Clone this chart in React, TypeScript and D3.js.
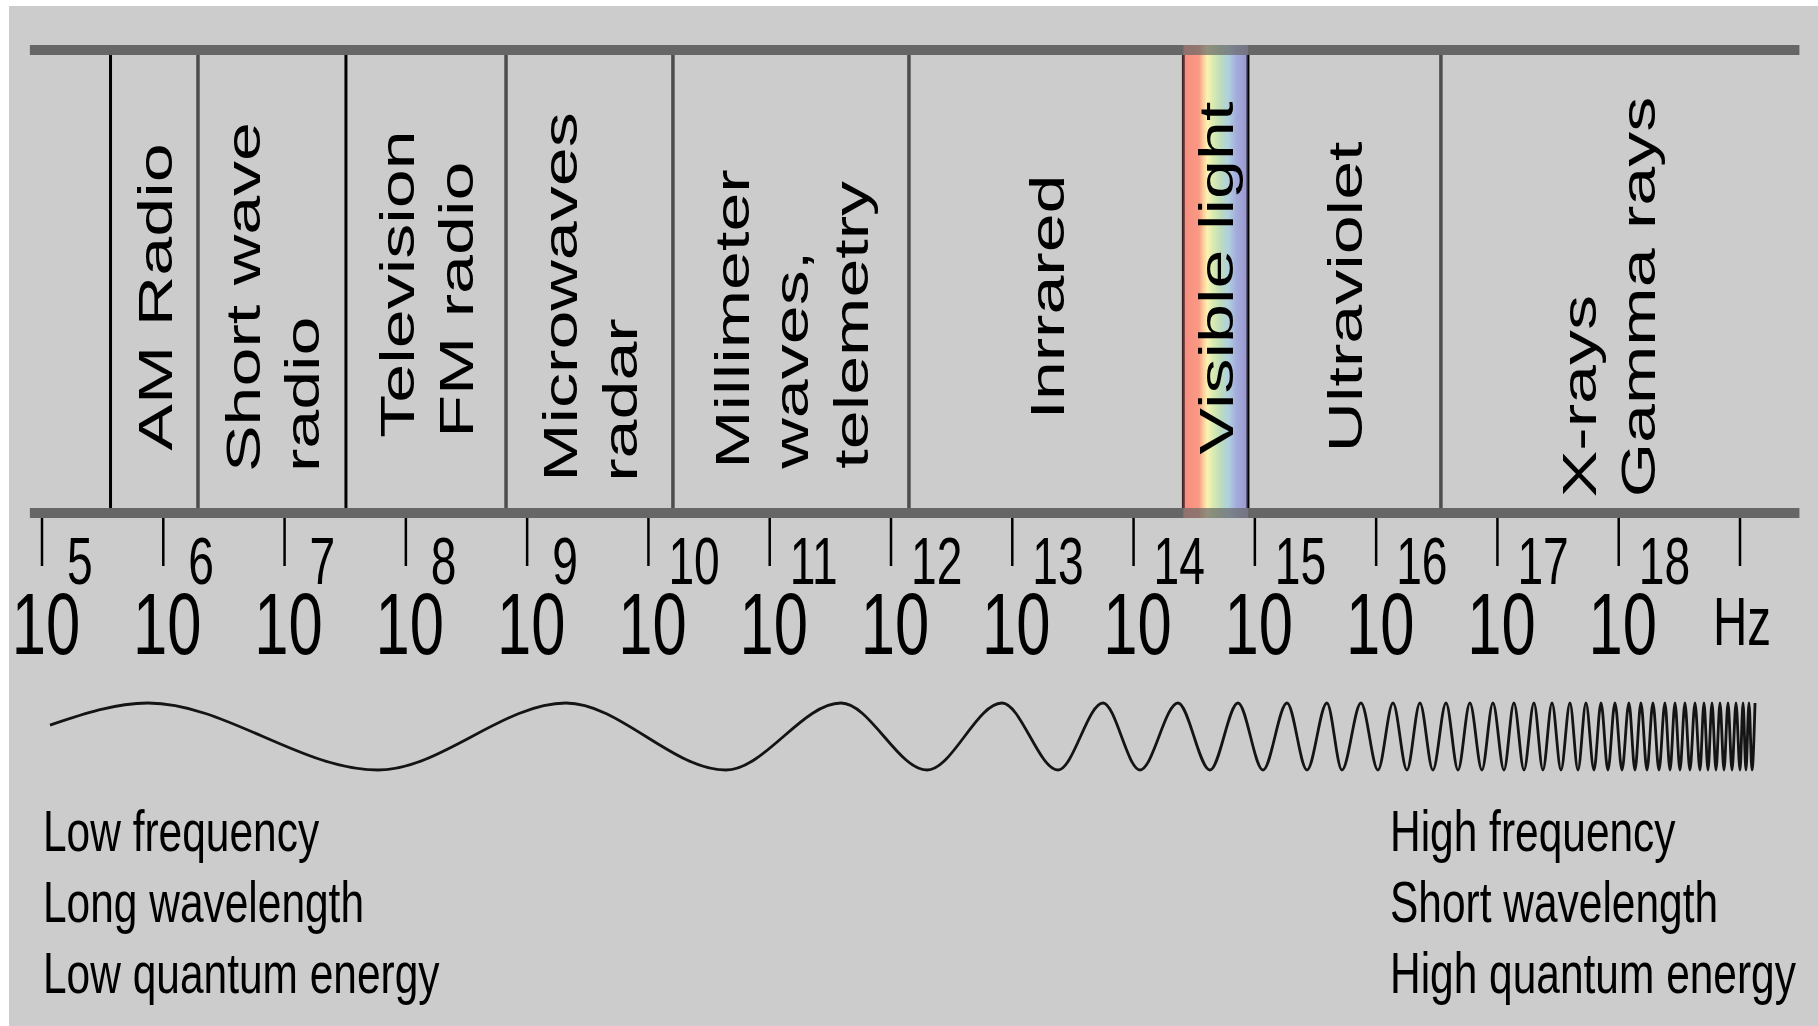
import React, { useEffect, useRef } from 'react';
import * as d3 from 'd3';

const W = 1818;
const H = 1026;

// frequency ruler, in powers of ten (Hz)
const exponents = [5, 6, 7, 8, 9, 10, 11, 12, 13, 14, 15, 16, 17, 18];
const lastTick = 19;
const unitLabel = 'Hz';
const rulerSpan = [4.9, 19.49];

const bandEdges = [5.565, 6.286, 7.506, 8.826, 10.202, 12.148, 14.411, 14.943, 16.534, 19.49];
const bandNames = [
  ['AM Radio'],
  ['Short wave', 'radio'],
  ['Television', 'FM radio'],
  ['Microwaves', 'radar'],
  ['Millimeter', 'waves,', 'telemetry'],
  ['Inrrared'],
  ['Visible light'],
  ['Ultraviolet'],
  ['X-rays', 'Gamma rays'],
];

// colours across the visible light strip, red to violet
const visibleColors = ['#f88c80', '#f99a84', '#fcc898', '#fbf2b2', '#dcecb0', '#bcdcbc', '#b0d0e0', '#a4acdc', '#9a96cc'];
const visibleStops = [0, 0.24, 0.3, 0.37, 0.45, 0.58, 0.7, 0.82, 1];

const leftNotes = ['Low frequency', 'Long wavelength', 'Low quantum energy'];
const rightNotes = ['High frequency', 'Short wavelength', 'High quantum energy'];

// the wave: starting point, then crests/troughs (alternating, crest first) in log10 Hz
const waveStart = [5.066, 0.34];
const waveExtrema = [
  5.874, 7.77, 9.32, 10.639, 11.588, 12.297, 12.915, 13.377, 13.748, 14.053,
  14.366, 14.63, 14.861, 15.067, 15.265, 15.43, 15.594, 15.718, 15.875, 16.015,
  16.139, 16.254, 16.361, 16.468, 16.576, 16.675, 16.773, 16.872, 16.963, 17.054,
  17.136, 17.219, 17.301, 17.375, 17.45, 17.524, 17.598, 17.664, 17.73, 17.796,
  17.854, 17.911, 17.969, 18.027, 18.084, 18.134, 18.183, 18.233, 18.282, 18.332,
  18.381, 18.423, 18.464, 18.505, 18.546, 18.587, 18.629, 18.67, 18.703, 18.736,
  18.769, 18.802, 18.835, 18.868, 18.901, 18.934, 18.967, 19.0, 19.025, 19.049,
  19.074, 19.099, 19.124,
];

const FONT = "'Liberation Sans', Arial, Helvetica, sans-serif";

export default function App() {
  const svgRef = useRef<SVGSVGElement>(null);

  useEffect(() => {
    if (!svgRef.current) return;
    const svg = d3.select(svgRef.current);
    svg.selectAll('*').remove();

    const x = d3.scaleLinear().domain([5, lastTick]).range([42, 1740]);
    const waveY = d3.scaleLinear().domain([-1, 1]).range([770, 703]);

    const barTop = 50;
    const barBottom = 513;
    const barW = 10;
    const sx = 0.7; // the artwork is squeezed sideways

    svg.append('rect').attr('width', W).attr('height', H).attr('fill', '#ffffff');
    svg.append('rect').attr('x', 9).attr('y', 6).attr('width', W - 9).attr('height', H - 6).attr('fill', '#cccccc');

    // visible light strip
    const defs = svg.append('defs');
    const grad = defs.append('linearGradient').attr('id', 'visible').attr('x1', '0%').attr('x2', '100%').attr('y1', '0%').attr('y2', '0%');
    visibleColors.forEach((c, i) => {
      grad.append('stop').attr('offset', `${visibleStops[i] * 100}%`).attr('stop-color', c);
    });
    const v0 = x(bandEdges[6]);
    const v1 = x(bandEdges[7]);
    svg.append('rect')
      .attr('x', v0).attr('width', v1 - v0)
      .attr('y', barTop + barW / 2).attr('height', barBottom - barTop - barW)
      .attr('fill', 'url(#visible)');

    // dividers
    const edgeStyle = (i: number) => {
      if (i === 0 || i === 2) return { c: '#000000', w: 3 };
      if (i === 6) return { c: '#3a2020', w: 3 };
      if (i === 7) return { c: '#000000', w: 3 };
      return { c: '#4d4d4d', w: 3.5 };
    };
    bandEdges.slice(0, -1).forEach((e, i) => {
      const st = edgeStyle(i);
      svg.append('line')
        .attr('x1', x(e)).attr('x2', x(e))
        .attr('y1', barTop).attr('y2', barBottom)
        .attr('stroke', st.c).attr('stroke-width', st.w);
    });

    // top and bottom bars
    [barTop, barBottom].forEach(yy => {
      svg.append('line')
        .attr('x1', x(rulerSpan[0])).attr('x2', x(rulerSpan[1]))
        .attr('y1', yy).attr('y2', yy)
        .attr('stroke', '#666666').attr('stroke-width', barW);
    });
    svg.append('rect')
      .attr('x', v0).attr('width', v1 - v0)
      .attr('y', barTop - barW / 2).attr('height', barBottom - barTop + barW)
      .attr('fill', 'url(#visible)').attr('opacity', 0.3);

    // band labels, rotated, reading upwards
    const nudge: Record<string, { dx: number; dy: number }> = {
      Television: { dx: 0, dy: -13 },
      Millimeter: { dx: 0, dy: 22 },
      'Visible light': { dx: 0, dy: -19 },
      'X-rays': { dx: -12, dy: 0 },
    };
    const capH = 35;
    const lineGap = 59.5;
    const labelMid = 297;
    bandNames.forEach((lines, i) => {
      const n = nudge[lines[0]] || { dx: 0, dy: 0 };
      const cx = (x(bandEdges[i]) + x(bandEdges[i + 1])) / 2 + n.dx;
      const b0 = cx + capH / 2 - ((lines.length - 1) * lineGap) / 2;
      const texts = lines.map(t =>
        svg.append('text')
          .attr('font-family', FONT)
          .attr('font-size', 70)
          .attr('fill', '#000')
          .attr('text-anchor', 'start')
          .text(t)
      );
      const longest = d3.max(texts, t => (t.node() as SVGTextElement).getComputedTextLength()) || 0;
      const yStart = labelMid + n.dy + longest / 2;
      texts.forEach((t, j) => {
        t.attr('transform', `translate(${b0 + j * lineGap},${yStart}) scale(${sx},1) rotate(-90)`);
      });
    });

    // ticks and tick labels
    const ticks = [...exponents, lastTick];
    ticks.forEach(e => {
      svg.append('line')
        .attr('x1', x(e)).attr('x2', x(e))
        .attr('y1', barBottom + barW / 2).attr('y2', 566)
        .attr('stroke', '#000').attr('stroke-width', 2.5);
    });
    exponents.forEach(e => {
      const off = e < 10 ? 25 : 20;
      svg.append('text')
        .attr('font-family', FONT).attr('font-size', 66).attr('fill', '#000')
        .attr('transform', `translate(${x(e) + off},584) scale(${sx},1)`)
        .text(String(e));
      svg.append('text')
        .attr('font-family', FONT).attr('font-size', 88).attr('fill', '#000')
        .attr('text-anchor', 'middle')
        .attr('transform', `translate(${x(e) + 4},654) scale(${sx},1)`)
        .text('10');
    });
    svg.append('text')
      .attr('font-family', FONT).attr('font-size', 68).attr('fill', '#000')
      .attr('text-anchor', 'middle')
      .attr('transform', `translate(${x(lastTick) + 2},645) scale(${sx},1)`)
      .text(unitLabel);

    // the wave
    const pts: [number, number][] = [[x(waveStart[0]), waveY(waveStart[1])]];
    waveExtrema.forEach((e, i) => pts.push([x(e), waveY(i % 2 === 0 ? 1 : -1)]));
    const line = d3.line().curve(d3.curveMonotoneX);
    svg.append('path')
      .attr('d', line(pts) as string)
      .attr('fill', 'none')
      .attr('stroke', '#141414')
      .attr('stroke-width', 2.8);

    // notes under the wave
    const noteBase = [851, 922, 993];
    leftNotes.forEach((t, i) => {
      svg.append('text')
        .attr('font-family', FONT).attr('font-size', 57).attr('fill', '#000')
        .attr('transform', `translate(43,${noteBase[i]}) scale(0.745,1)`)
        .text(t);
    });
    rightNotes.forEach((t, i) => {
      svg.append('text')
        .attr('font-family', FONT).attr('font-size', 57).attr('fill', '#000')
        .attr('transform', `translate(1390,${noteBase[i]}) scale(0.745,1)`)
        .text(t);
    });
  }, []);

  return (
    <div style={{ position: 'absolute', left: 0, top: 0, width: W, height: H }}>
      <svg ref={svgRef} width={W} height={H} style={{ display: 'block' }} />
    </div>
  );
}
